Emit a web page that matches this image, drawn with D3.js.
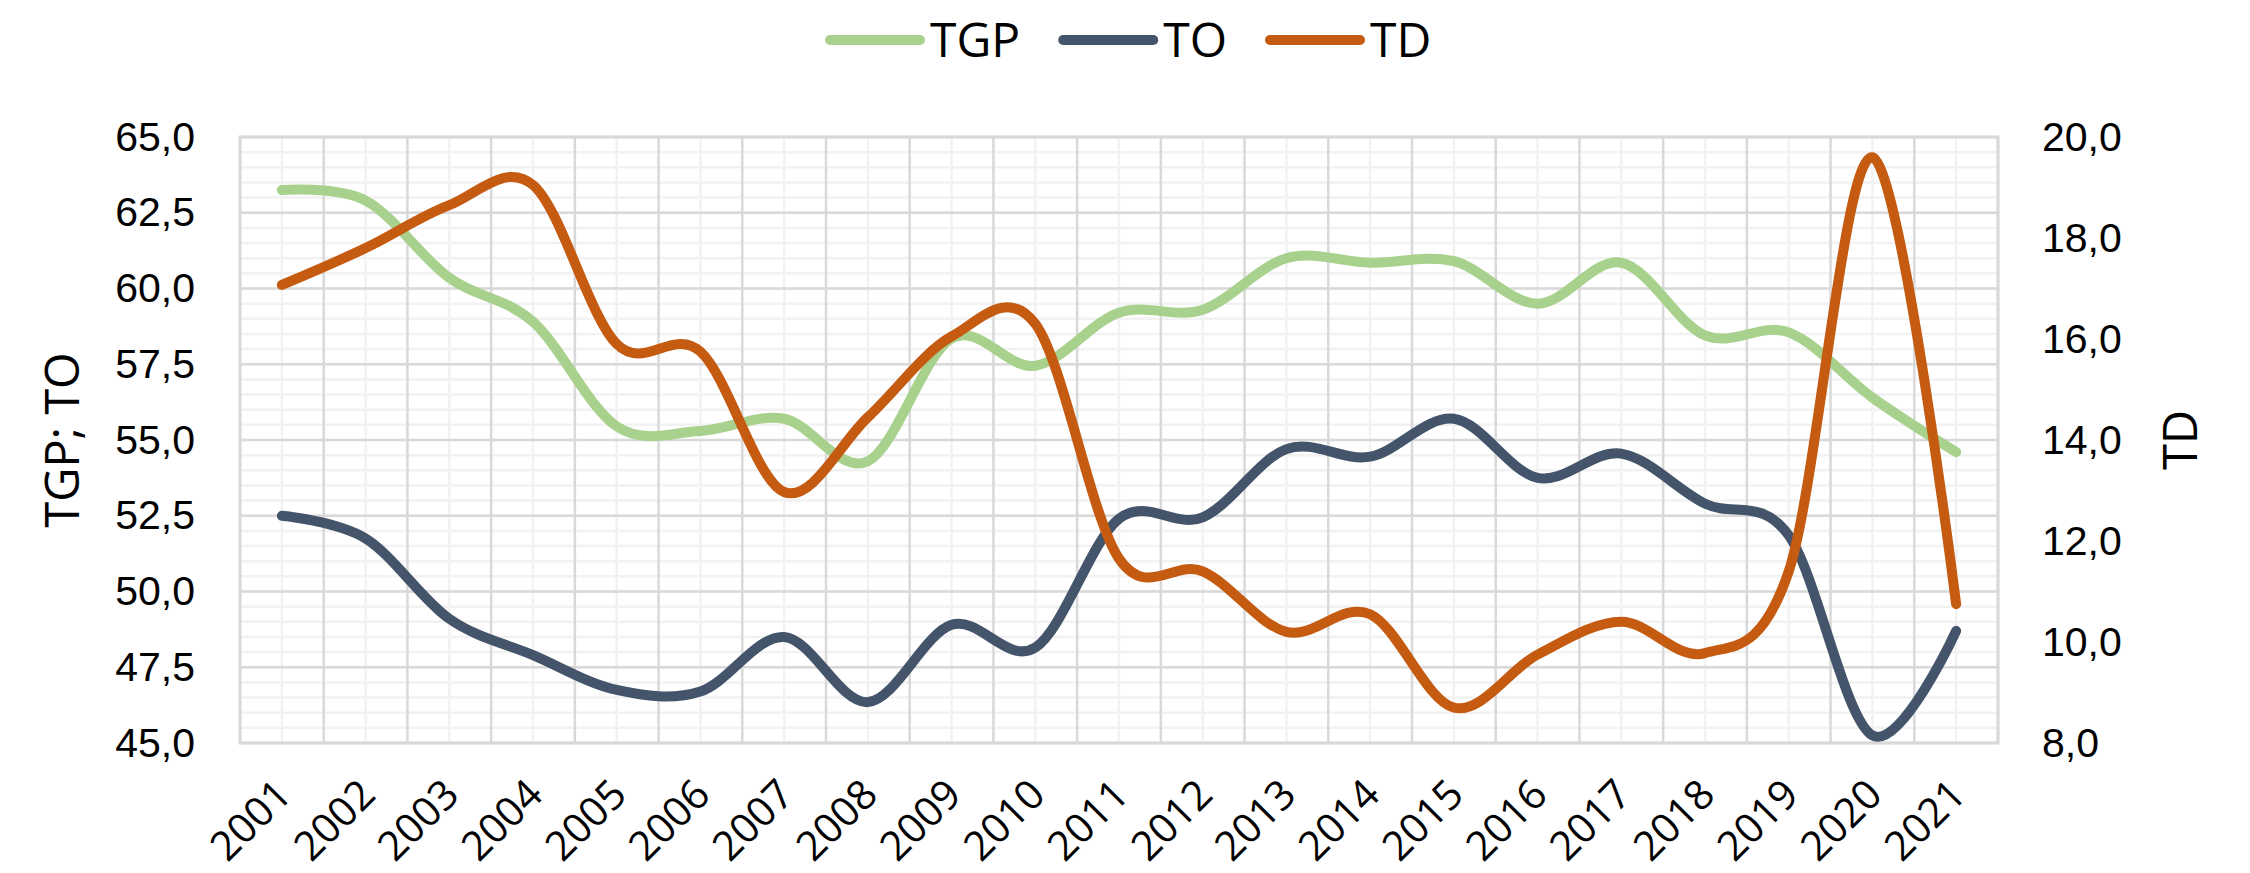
<!DOCTYPE html>
<html>
<head>
<meta charset="utf-8">
<script src="https://cdn.jsdelivr.net/npm/d3@7/dist/d3.min.js"></script>
<style>
  html, body { margin: 0; padding: 0; background: #fff; }
  svg { display: block; font-family: "Open Sans", "Noto Sans", sans-serif; }
</style>
</head>
<body>
<svg id="chart" width="2250" height="873"></svg>
<script>
// data
var years = ["2001","2002","2003","2004","2005","2006","2007","2008","2009","2010","2011",
             "2012","2013","2014","2015","2016","2017","2018","2019","2020","2021"];
var tgp = [63.25, 62.9, 60.35, 58.9, 55.45, 55.3, 55.7, 54.3, 58.35, 57.45, 59.2,
           59.3, 61.0, 60.85, 60.9, 59.5, 60.85, 58.45, 58.55, 56.4, 54.6];
var to  = [52.5, 51.75, 49.1, 47.9, 46.75, 46.7, 48.5, 46.35, 48.9, 48.15, 52.4,
           52.45, 54.7, 54.45, 55.7, 53.75, 54.55, 52.9, 51.85, 45.25, 48.7];
var td  = [17.07, 17.8, 18.65, 19.05, 15.9, 15.75, 12.97, 14.45, 16.05, 16.3, 11.65,
           11.4, 10.2, 10.55, 8.7, 9.75, 10.4, 9.78, 11.4, 19.6, 10.75];
var leftTicks = [45, 47.5, 50, 52.5, 55, 57.5, 60, 62.5, 65];
var rightTicks = [8, 10, 12, 14, 16, 18, 20];
var seriesNames = ["TGP", "TO", "TD"];
var seriesColors = ["#A9D18E", "#44546A", "#C55A11"];

var W = 2250, H = 873;
var margin = {top: 137, right: 252, bottom: 130, left: 240};
var pw = W - margin.left - margin.right, ph = H - margin.top - margin.bottom;

var svg = d3.select("#chart");
var g = svg.append("g").attr("transform", "translate(" + margin.left + "," + margin.top + ")");

var x = d3.scaleBand().domain(years).range([0, pw]);
var yL = d3.scaleLinear().domain([45, 65]).range([ph, 0]);
var yR = d3.scaleLinear().domain([8, 20]).range([ph, 0]);
var fmt = function(v) { return d3.format(".1f")(v).replace(".", ","); };

// minor grid
var minorY = d3.range(45, 65.001, 0.5);
g.append("g").selectAll("line").data(minorY).enter().append("line")
  .attr("x1", 0).attr("x2", pw)
  .attr("y1", function(d) { return yL(d); }).attr("y2", function(d) { return yL(d); })
  .attr("stroke", "#F2F2F2").attr("stroke-width", 2.5);
g.append("g").selectAll("line").data(years).enter().append("line")
  .attr("x1", function(d) { return x(d) + x.bandwidth() / 2; })
  .attr("x2", function(d) { return x(d) + x.bandwidth() / 2; })
  .attr("y1", 0).attr("y2", ph)
  .attr("stroke", "#F2F2F2").attr("stroke-width", 2.5);

// major grid
g.append("g").selectAll("line").data(leftTicks).enter().append("line")
  .attr("x1", 0).attr("x2", pw)
  .attr("y1", function(d) { return yL(d); }).attr("y2", function(d) { return yL(d); })
  .attr("stroke", "#D9D9D9").attr("stroke-width", 2.5);
g.append("g").selectAll("line").data(years.concat(["end"])).enter().append("line")
  .attr("x1", function(d, i) { return i * x.step(); })
  .attr("x2", function(d, i) { return i * x.step(); })
  .attr("y1", 0).attr("y2", ph)
  .attr("stroke", "#D9D9D9").attr("stroke-width", 2.5);
g.append("rect").attr("x", 0).attr("y", 0).attr("width", pw).attr("height", ph)
  .attr("fill", "none").attr("stroke", "#D9D9D9").attr("stroke-width", 3);

// axes
var axL = d3.axisLeft(yL).tickValues(leftTicks).tickFormat(fmt).tickSize(0).tickPadding(45);
var axR = d3.axisRight(yR).tickValues(rightTicks).tickFormat(fmt).tickSize(0).tickPadding(44);
[g.append("g").call(axL), g.append("g").attr("transform", "translate(" + pw + ",0)").call(axR)]
  .forEach(function(a) {
    a.select(".domain").remove();
    a.selectAll("text").attr("font-size", 41).attr("fill", "#000").attr("font-family", null);
  });

var xl = g.append("g").attr("transform", "translate(0," + ph + ")");
xl.selectAll("text").data(years).enter().append("text")
  .attr("transform", function(d) {
    return "translate(" + (x(d) + x.bandwidth() / 2 + 12) + ",54) rotate(-45)";
  })
  .attr("text-anchor", "end").attr("font-size", 41).attr("fill", "#000")
  .text(function(d) { return d; });

// axis titles
svg.append("text").attr("transform", "translate(79," + (margin.top + ph / 2) + ") rotate(-90)")
  .attr("text-anchor", "middle").attr("font-size", 47).text("TGP; TO");
svg.append("text").attr("transform", "translate(2197," + (margin.top + ph / 2) + ") rotate(-90)")
  .attr("text-anchor", "middle").attr("font-size", 47).text("TD");

// lines
var cx = function(d, i) { return x(years[i]) + x.bandwidth() / 2; };
var mk = function(scale) {
  return d3.line().x(cx).y(function(d) { return scale(d); }).curve(d3.curveCatmullRom.alpha(0));
};
var series = [[tgp, yL], [to, yL], [td, yR]];
series.forEach(function(s, i) {
  g.append("path").datum(s[0]).attr("d", mk(s[1]))
    .attr("fill", "none").attr("stroke", seriesColors[i])
    .attr("stroke-width", 10).attr("stroke-linecap", "round").attr("stroke-linejoin", "round");
});

// legend
var lx = 830;
seriesNames.forEach(function(n, i) {
  svg.append("line").attr("x1", lx).attr("x2", lx + 90).attr("y1", 40).attr("y2", 40)
    .attr("stroke", seriesColors[i]).attr("stroke-width", 10).attr("stroke-linecap", "round");
  var t = svg.append("text").attr("x", lx + 100).attr("y", 57).attr("font-size", 48).text(n);
  lx = lx + 100 + t.node().getComputedTextLength() + 43;
});
</script>
</body>
</html>
